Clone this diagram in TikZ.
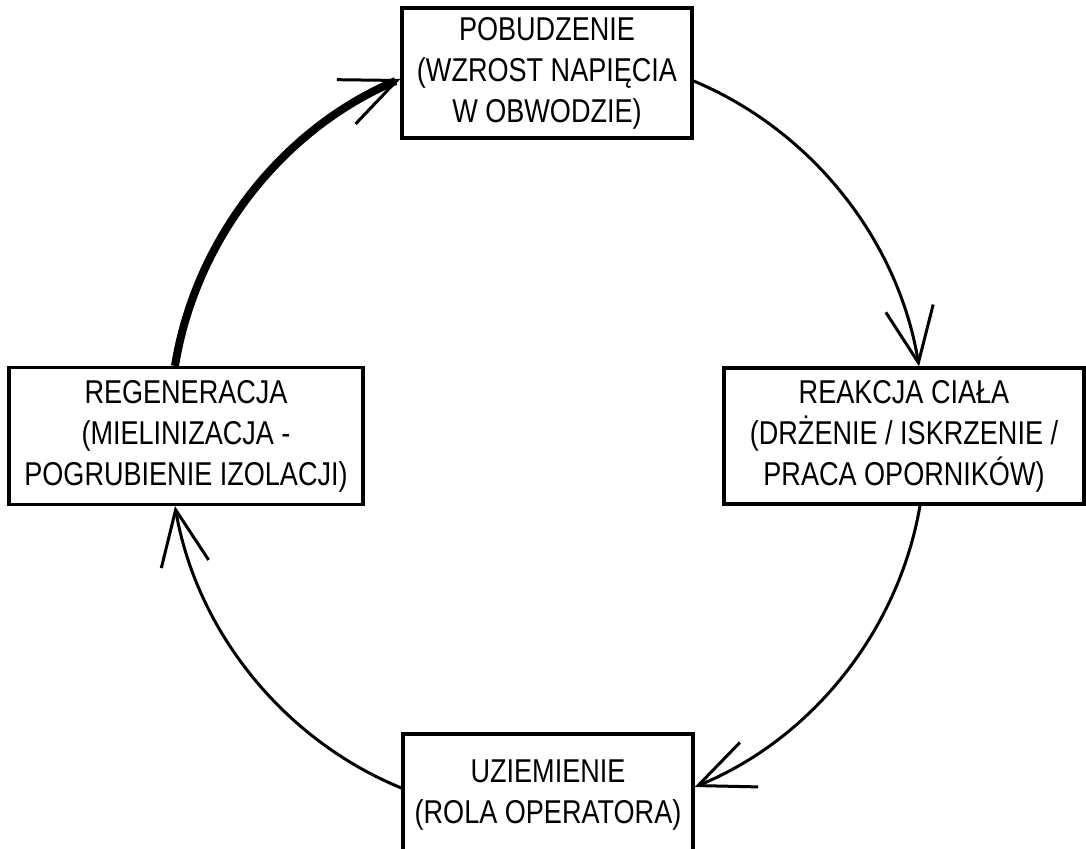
\documentclass[tikz,border=0pt]{standalone}
\usepackage{fontspec}
\setmainfont{Liberation Sans}[FakeStretch=0.82]
\usetikzlibrary{arrows.meta}
\begin{document}
\begin{tikzpicture}[x=1pt,y=-1pt,
  box/.style={draw, line width=3.2pt, inner sep=0pt, align=center,
    font=\fontsize{33}{41}\selectfont},
  flow/.style={line width=3pt,
    -{Straight Barb[length=55pt,width=48pt,line width=3pt 0]},
    bend left=29, looseness=0.9},
  thickflow/.style={flow, line width=8pt}
]
\fill[white] (0,0) rectangle (1086,848);
\useasboundingbox (0,0) rectangle (1086,848);
\node[box, minimum width=290pt, minimum height=130pt] (top) at (547,73)
  {POBUDZENIE\\(WZROST NAPIĘCIA\\W OBWODZIE)};
\node[box, minimum width=360pt, minimum height=136pt] (right) at (904,436)
  {REAKCJA CIAŁA\\(DRŻENIE / ISKRZENIE /\\PRACA OPORNIKÓW)};
\node[box, minimum width=290pt, minimum height=122pt] (bot) at (548,795)
  {UZIEMIENIE\\(ROLA OPERATORA)};
\node[box, minimum width=354pt, minimum height=137pt] (left) at (186,436)
  {REGENERACJA\\(MIELINIZACJA -\\POGRUBIENIE IZOLACJI)};
\draw[flow] ([yshift=-8pt]top.east) to ([xshift=15pt]right.north);
\draw[flow] ([xshift=16pt]right.south) to ([yshift=8pt]bot.east);
\draw[flow] ([yshift=7pt]bot.west) to ([xshift=-11pt]left.south);
\draw[thickflow] ([xshift=-11pt]left.north) to ([yshift=-6pt]top.west);
\end{tikzpicture}
\end{document}
